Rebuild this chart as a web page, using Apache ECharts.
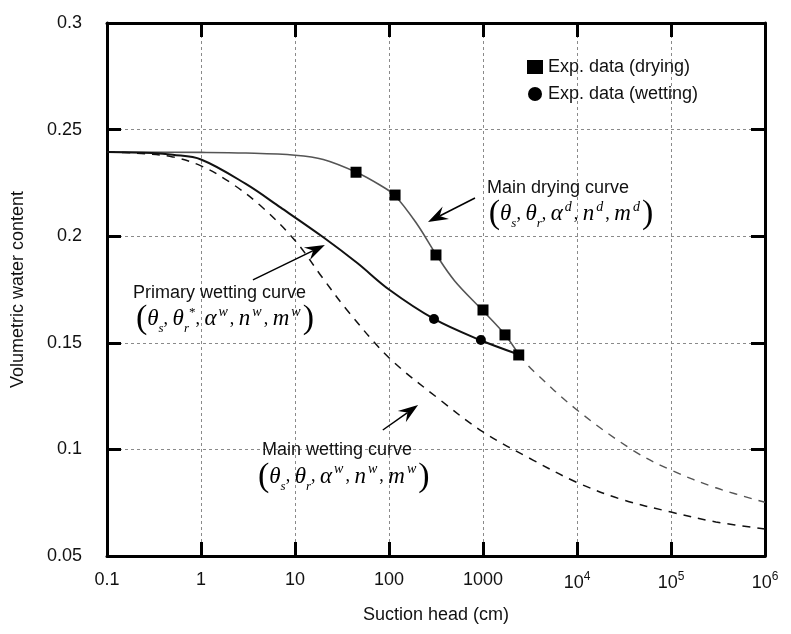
<!DOCTYPE html>
<html><head><meta charset="utf-8">
<script src="https://cdn.jsdelivr.net/npm/echarts@6.0.0/dist/echarts.min.js"></script>
<style>html,body{margin:0;padding:0;background:#fff}#c{width:791px;height:634px}</style>
</head><body><div id="c"></div>
<script>
// ---- data ----
const dryCurveX   = [0.1, 1, 3, 10, 20, 45, 80, 116, 200, 316, 500, 1000, 1700, 2400];
const dryCurveY   = [0.2395, 0.2393, 0.2390, 0.2380, 0.2360, 0.2300, 0.2240, 0.2190, 0.2055, 0.1915, 0.1790, 0.1650, 0.1540, 0.1445];
const dryExtX     = [2400, 3400, 10000, 39000, 100000, 300000, 1000000];
const dryExtY     = [0.1445, 0.1370, 0.1185, 0.0997, 0.0903, 0.0820, 0.0752];
const mainWetX    = [0.1, 0.2, 0.5, 1, 2, 4.25, 10, 20, 35.7, 100, 350, 1000, 3400, 10000, 30000, 100000, 300000, 1000000];
const mainWetY    = [0.2395, 0.2390, 0.2372, 0.2330, 0.2255, 0.2145, 0.1980, 0.1800, 0.1654, 0.1430, 0.1232, 0.1082, 0.0950, 0.0845, 0.0765, 0.0706, 0.0660, 0.0627];
const primWetX    = [0.1, 0.3, 0.5, 1, 3, 7, 20, 46, 100, 301, 930, 2400];
const primWetY    = [0.2395, 0.2390, 0.2382, 0.2360, 0.2245, 0.2135, 0.1995, 0.1874, 0.1750, 0.1612, 0.1513, 0.1445];
const expDryX     = [44.6, 116, 316, 1000, 1714, 2400];
const expDryY     = [0.2300, 0.2193, 0.1912, 0.1654, 0.1537, 0.1443];
const expWetX     = [301, 950];
const expWetY     = [0.1612, 0.1513];

const zip = (xs, ys) => xs.map((x, i) => [x, ys[i]]);
const FONT = 'Liberation Sans, Arial, sans-serif';
const SERIF = 'Liberation Serif, Times New Roman, serif';

const chart = echarts.init(document.getElementById('c'), null, {renderer: 'canvas'});

const axisLineStyle = {color: '#000', width: 3};
const gridStyle = {show: true, lineStyle: {color: '#8a8a8a', width: 1, type: [3, 3]}};

function xLabel(v) {
  const e = Math.round(Math.log10(v));
  if (e >= 4) return '10{sup|' + e + '}';
  if (e < 0) return '0.1';
  return String(Math.pow(10, e));
}

chart.setOption({
  animation: false,
  backgroundColor: '#fff',
  grid: {left: 107, right: 26, top: 23, bottom: 78},
  legend: {
    orient: 'vertical', left: 522, top: 53, itemGap: 9,
    itemWidth: 16, itemHeight: 14,
    textStyle: {fontFamily: FONT, fontSize: 18, color: '#111'},
    data: [{name: 'Exp. data (drying)', icon: 'rect'}, {name: 'Exp. data (wetting)', icon: 'circle'}]
  },
  xAxis: [{
    type: 'log', logBase: 10, min: 0.1, max: 1e6, position: 'bottom',
    name: 'Suction head (cm)', nameLocation: 'middle', nameGap: 50,
    nameTextStyle: {fontFamily: FONT, fontSize: 18, color: '#111'},
    axisLine: {show: true, lineStyle: axisLineStyle},
    axisTick: {show: true, inside: true, length: 14, lineStyle: {color: '#000', width: 3}},
    minorTick: {show: false},
    splitLine: gridStyle,
    axisLabel: {
      formatter: xLabel, margin: 15, fontFamily: FONT, fontSize: 18, color: '#111',
      rich: {sup: {fontFamily: FONT, fontSize: 12, verticalAlign: 'top', padding: [0, 0, 12, 0]}}
    }
  }, {
    type: 'log', logBase: 10, min: 0.1, max: 1e6, position: 'top',
    axisLine: {show: true, lineStyle: axisLineStyle},
    axisTick: {show: true, inside: true, length: 14, lineStyle: {color: '#000', width: 3}},
    axisLabel: {show: false}, splitLine: {show: false}
  }],
  yAxis: [{
    type: 'value', min: 0.05, max: 0.3, interval: 0.05, position: 'left',
    name: 'Volumetric water content', nameLocation: 'middle', nameGap: 80,
    nameTextStyle: {fontFamily: FONT, fontSize: 18, color: '#111'},
    axisLine: {show: true, lineStyle: axisLineStyle},
    axisTick: {show: true, inside: true, length: 14, lineStyle: {color: '#000', width: 3}},
    splitLine: gridStyle,
    axisLabel: {margin: 25, fontFamily: FONT, fontSize: 18, color: '#111',
      formatter: v => String(+v.toFixed(2))}
  }, {
    type: 'value', min: 0.05, max: 0.3, interval: 0.05, position: 'right',
    axisLine: {show: true, lineStyle: axisLineStyle},
    axisTick: {show: true, inside: true, length: 14, lineStyle: {color: '#000', width: 3}},
    axisLabel: {show: false}, splitLine: {show: false}
  }],
  series: [
    {name: 'Main drying curve', type: 'line', data: zip(dryCurveX, dryCurveY), smooth: 0.35,
      showSymbol: false, lineStyle: {color: '#555', width: 1.6}, z: 3},
    {name: 'Main drying extension', type: 'line', data: zip(dryExtX, dryExtY), smooth: 0.35,
      showSymbol: false, lineStyle: {color: '#555', width: 1.4, type: [8, 7]}, z: 3},
    {name: 'Main wetting curve', type: 'line', data: zip(mainWetX, mainWetY), smooth: 0.35,
      showSymbol: false, lineStyle: {color: '#111', width: 1.5, type: [8, 7]}, z: 3},
    {name: 'Primary wetting curve', type: 'line', data: zip(primWetX, primWetY), smooth: 0.35,
      showSymbol: false, lineStyle: {color: '#111', width: 2}, z: 4},
    {name: 'Exp. data (drying)', type: 'scatter', data: zip(expDryX, expDryY), symbol: 'rect', symbolSize: 11,
      itemStyle: {color: '#000', opacity: 1}, z: 5},
    {name: 'Exp. data (wetting)', type: 'scatter', data: zip(expWetX, expWetY), symbol: 'circle', symbolSize: 10,
      itemStyle: {color: '#000', opacity: 1}, z: 5}
  ]
});

// ---- annotations (anchored in data coordinates) ----
const arrows = [
  {from: [822, 0.2179], to: [260, 0.2067]},
  {from: [3.57, 0.1795], to: [20.8, 0.1959]},
  {from: [86, 0.1091], to: [204, 0.1208]}
];
const labels = [
  {at: [1104, 0.2226], text: 'Main drying curve'},
  {at: [0.189, 0.1734], text: 'Primary wetting curve'},
  {at: [4.46, 0.0997], text: 'Main wetting curve'}
];
const formulas = [
  {at: [1150, 0.2105], text: '{p|(}{t|θ}{sub|s}{c|, }{t|θ}{sub|r}{c|, }{t|α}{sup|d}{c|, }{t|n}{sup|d}{c|, }{t|m}{sup|d}{p|)}'},
  {at: [0.203, 0.1612], text: '{p|(}{t|θ}{sub|s}{c|, }{t|θ}{sub|r}{sup2|*}{c|, }{t|α}{sup|w}{c|, }{t|n}{sup|w}{c|, }{t|m}{sup|w}{p|)}'},
  {at: [4.04, 0.0872], text: '{p|(}{t|θ}{sub|s}{c|, }{t|θ}{sub|r}{c|, }{t|α}{sup|w}{c|, }{t|n}{sup|w}{c|, }{t|m}{sup|w}{p|)}'}
];
const richMath = {
  p: {fontFamily: SERIF, fontSize: 34, color: '#111', lineHeight: 36},
  t: {fontFamily: SERIF, fontStyle: 'italic', fontSize: 23, color: '#111', lineHeight: 36},
  c: {fontFamily: SERIF, fontSize: 18, color: '#111', lineHeight: 36},
  sub: {fontFamily: SERIF, fontStyle: 'italic', fontSize: 13, color: '#111', verticalAlign: 'bottom', lineHeight: 36, padding: [0, 0, 2, 0]},
  sup: {fontFamily: SERIF, fontStyle: 'italic', fontSize: 14, color: '#111', verticalAlign: 'top', lineHeight: 36, padding: [4, 2, 0, 2]},
  sup2: {fontFamily: SERIF, fontSize: 13, color: '#111', verticalAlign: 'top', lineHeight: 36, padding: [5, 0, 0, 0]}
};

const px = p => chart.convertToPixel({xAxisIndex: 0, yAxisIndex: 0}, p);
const graphics = [];
arrows.forEach(a => {
  const f = px(a.from), t = px(a.to);
  const dx = t[0] - f[0], dy = t[1] - f[1], L = Math.hypot(dx, dy);
  const ux = dx / L, uy = dy / L, nx = -uy, ny = ux;
  const hl = 20, hw = 7, notch = 13;
  const bx = t[0] - ux * hl, by = t[1] - uy * hl;
  const mx = t[0] - ux * notch, my = t[1] - uy * notch;
  graphics.push({type: 'line', shape: {x1: f[0], y1: f[1], x2: mx, y2: my}, style: {stroke: '#000', lineWidth: 1.5}, z: 10});
  graphics.push({type: 'polygon', shape: {points: [t, [bx + nx * hw, by + ny * hw], [mx, my], [bx - nx * hw, by - ny * hw]]},
    style: {fill: '#000'}, z: 10});
});
labels.forEach(l => {
  const p = px(l.at);
  graphics.push({type: 'text', x: p[0], y: p[1], z: 10,
    style: {text: l.text, fontFamily: FONT, fontSize: 18, fill: '#111', align: 'left', verticalAlign: 'middle'}});
});
formulas.forEach(l => {
  const p = px(l.at);
  graphics.push({type: 'text', x: p[0], y: p[1], z: 10,
    style: {text: l.text, rich: richMath, align: 'left', verticalAlign: 'middle'}});
});
chart.setOption({graphic: graphics});
</script>
</body></html>
